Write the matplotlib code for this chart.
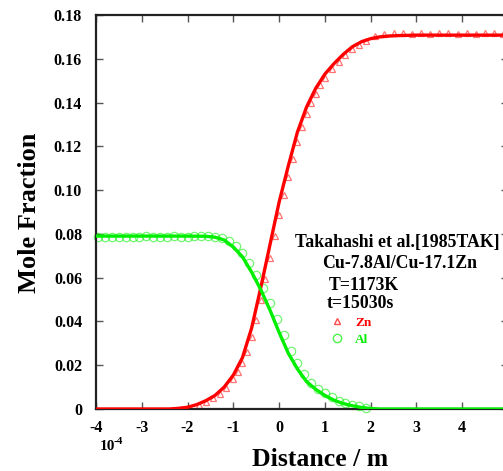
import matplotlib
matplotlib.use("Agg")
import matplotlib.pyplot as plt
from matplotlib.lines import Line2D

# ---- data (distance in units of 1e-4 m) ----
zn_line_x = [-4.0, -2.4, -2.2, -2.0, -1.8, -1.6, -1.4, -1.2, -1.0, -0.8, -0.6, -0.4, -0.2,
             0.0, 0.2, 0.4, 0.6, 0.8, 1.0, 1.2, 1.4, 1.6, 1.8, 2.0, 2.2, 2.4, 2.6, 3.0, 5.0]
zn_line_y = [0.0, 0.0, 0.0003, 0.0008, 0.0020, 0.0038, 0.0062, 0.0100, 0.0155, 0.0235, 0.0370,
             0.0555, 0.0750, 0.0945, 0.1110, 0.1265, 0.1380, 0.1465, 0.1530, 0.1578, 0.1620,
             0.1655, 0.1678, 0.1692, 0.1700, 0.1704, 0.1706, 0.1708, 0.1708]

al_line_x = [-4.0, -2.0, -1.6, -1.4, -1.2, -1.0, -0.8, -0.6, -0.4, -0.2, 0.0, 0.2, 0.4,
             0.6, 0.8, 1.0, 1.2, 1.4, 1.6, 1.8, 2.0, 2.2, 5.0]
al_line_y = [0.0790, 0.0790, 0.0789, 0.0785, 0.0772, 0.0740, 0.0695, 0.0625, 0.0545, 0.0452,
             0.0350, 0.0255, 0.0183, 0.0125, 0.0090, 0.0062, 0.0040, 0.0025, 0.0015, 0.0007,
             0.0002, 0.0, 0.0]

zn_exp_x = [-1.75, -1.6, -1.45, -1.3, -1.15, -1.0, -0.9, -0.8, -0.7, -0.6, -0.5, -0.4, -0.3,
            -0.2, -0.1, 0.0, 0.1, 0.2, 0.3, 0.4, 0.5, 0.6, 0.7, 0.8, 0.9, 1.0, 1.15, 1.3,
            1.45, 1.6, 1.75, 1.9, 2.1, 2.3, 2.5, 2.7, 2.9, 3.1, 3.3, 3.5, 3.7, 3.9, 4.1,
            4.3, 4.5, 4.7, 4.9]
zn_exp_y = [0.0019, 0.0033, 0.0049, 0.0070, 0.0098, 0.0139, 0.0171, 0.0211, 0.0262, 0.0330,
            0.0407, 0.0500, 0.0594, 0.0692, 0.0789, 0.0887, 0.0978, 0.1060, 0.1141, 0.1218,
            0.1288, 0.1346, 0.1397, 0.1440, 0.1478, 0.1510, 0.1552, 0.1586, 0.1618, 0.1645,
            0.1665, 0.1681, 0.1702, 0.1712, 0.1716, 0.1718, 0.1714, 0.1717, 0.1715, 0.1718,
            0.1716, 0.1714, 0.1717, 0.1715, 0.1718, 0.1716, 0.1715]

al_exp_x = [-3.95, -3.8, -3.65, -3.5, -3.35, -3.2, -3.05, -2.9, -2.75, -2.6, -2.45, -2.3,
            -2.15, -2.0, -1.85, -1.7, -1.55, -1.4, -1.25, -1.1, -0.95, -0.8, -0.65, -0.5,
            -0.35, -0.2, -0.05, 0.1, 0.25, 0.4, 0.55, 0.7, 0.85, 1.0, 1.15, 1.3, 1.45, 1.6,
            1.75, 1.9]
al_exp_y = [0.0787, 0.0788, 0.0787, 0.0788, 0.0788, 0.0787, 0.0788, 0.0789, 0.0788, 0.0787,
            0.0788, 0.0789, 0.0788, 0.0788, 0.0789, 0.0789, 0.0789, 0.0786, 0.0780, 0.0767,
            0.0743, 0.0711, 0.0667, 0.0613, 0.0553, 0.0485, 0.0411, 0.0336, 0.0265, 0.0208,
            0.0160, 0.0120, 0.0093, 0.0072, 0.0053, 0.0038, 0.0027, 0.0018, 0.0012, 0.0006]

x_ticks = [-4, -3, -2, -1, 0, 1, 2, 3, 4]
y_ticks = [0, 0.02, 0.04, 0.06, 0.08, 0.10, 0.12, 0.14, 0.16, 0.18]
y_tick_labels = ["0", "0.02", "0.04", "0.06", "0.08", "0.10", "0.12", "0.14", "0.16", "0.18"]

info_lines = ["Takahashi et al.[1985TAK]", "Cu-7.8Al/Cu-17.1Zn", "T=1173K", "t=15030s"]

# ---- styling ----
RED = "#ff0000"
GREEN = "#00ee00"
SERIF = ["Liberation Serif", "DejaVu Serif"]
plt.rcParams["font.family"] = SERIF
plt.rcParams["font.weight"] = "bold"

W, H = 503, 471
fig = plt.figure(figsize=(W / 100, H / 100), dpi=100)
ax_left, ax_right, ax_top, ax_bottom = 96, 508, 15, 409
ax = fig.add_axes([ax_left / W, 1 - ax_bottom / H, (ax_right - ax_left) / W, (ax_bottom - ax_top) / H])

ax.plot(zn_exp_x, zn_exp_y, linestyle="none", marker="^", markersize=5.0, markerfacecolor="none",
        markeredgecolor=RED, markeredgewidth=0.9, alpha=0.55, clip_on=False, zorder=2)
ax.plot(al_exp_x, al_exp_y, linestyle="none", marker="o", markersize=6.0, markerfacecolor="none",
        markeredgecolor=GREEN, markeredgewidth=0.9, alpha=0.55, clip_on=False, zorder=2)
ax.plot(zn_line_x, zn_line_y, color=RED, linewidth=2.4, zorder=3)
ax.plot(al_line_x, al_line_y, color=GREEN, linewidth=2.4, zorder=3)

ax.set_xlim(-4, 5)
ax.set_ylim(0, 0.18)
ax.set_xticks(x_ticks)
ax.set_xticklabels([str(t) for t in x_ticks])
ax.set_yticks(y_ticks)
ax.set_yticklabels(y_tick_labels)
ax.tick_params(direction="in", length=5, width=1.0, color="#555555", top=True, right=True,
               labelsize=11.5)
ax.tick_params(axis="x", pad=8)
ax.tick_params(axis="y", pad=10)
for lab in ax.get_xticklabels() + ax.get_yticklabels():
    lab.set_fontweight("bold")
for s in ax.spines.values():
    s.set_linewidth(1.6)
    s.set_color("#222222")

fig.text(320 / W, 1 - 460 / H, "Distance / m", ha="center", va="center", fontsize=18.5,
         fontweight="bold")
fig.text(30 / W, 1 - 213 / H, "Mole Fraction", ha="center", va="center", rotation=90,
         fontsize=19, fontweight="bold")
fig.text(100 / W, 1 - 447 / H, "10", ha="left", va="center", fontsize=11, fontweight="bold")
fig.text(114 / W, 1 - 441 / H, "-4", ha="left", va="center", fontsize=8, fontweight="bold")

# annotation block
fig.text(397 / W, 1 - 243 / H, info_lines[0], ha="center", va="center", fontsize=12.8, fontweight="bold")
fig.text(400 / W, 1 - 264 / H, info_lines[1], ha="center", va="center", fontsize=12.8, fontweight="bold")
fig.text(329 / W, 1 - 285 / H, info_lines[2], ha="left", va="center", fontsize=12.8, fontweight="bold")
fig.text(327 / W, 1 - 304 / H, info_lines[3], ha="left", va="center", fontsize=12.8, fontweight="bold")

handles = [Line2D([], [], linestyle="none", marker="^", markersize=5.0, markerfacecolor="none",
                  markeredgecolor=RED, markeredgewidth=1.0, alpha=0.7),
           Line2D([], [], linestyle="none", marker="o", markersize=6.0, markerfacecolor="none",
                  markeredgecolor=GREEN, markeredgewidth=1.0, alpha=0.7)]
leg = ax.legend(handles, ["Zn", "Al"], loc="center left", bbox_to_anchor=(330 / W, 1 - 331 / H),
                bbox_transform=fig.transFigure, frameon=False, handlelength=1.0, handletextpad=0.9,
                labelspacing=0.35, borderpad=0, borderaxespad=0,
                prop={"family": SERIF, "weight": "bold", "size": 9.5})
for t, c in zip(leg.get_texts(), [RED, GREEN]):
    t.set_color(c)

fig.savefig("out.png", dpi=100)
